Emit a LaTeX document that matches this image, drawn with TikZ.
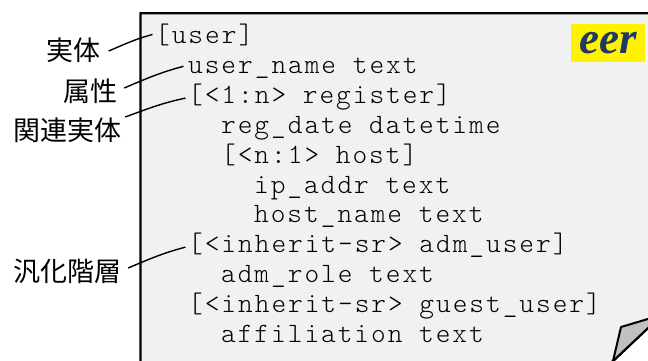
\documentclass[tikz,border=0pt]{standalone}
\usepackage{fontspec}
\setmainfont{Liberation Serif}
\newfontfamily\codefont[LetterSpace=7]{lmmonolt10-regular.otf}
\newfontfamily\jpfont{Noto Sans CJK JP}
\newfontfamily\tagfont{Liberation Serif}
\usetikzlibrary{calc}
\definecolor{paper}{HTML}{F1F1F1}
\definecolor{flapgray}{HTML}{C0C0C0}
\definecolor{tagblue}{RGB}{31,56,100}

\begin{document}
\begin{tikzpicture}[x=1pt,y=1pt,
  codeline/.style={anchor=base west, inner xsep=2.5pt, inner ysep=0pt,
    text height=16.5pt, text depth=5.5pt,
    font=\codefont\fontsize{28}{30}\selectfont},
  jplabel/.style={font=\jpfont\fontsize{27}{30}\selectfont, inner sep=0pt},
  callout/.style={draw=black, line width=1.4pt},
  tagbox/.style={fill=yellow, minimum width=74pt, minimum height=38pt,
    inner sep=0pt, text height=20.7pt, text depth=0pt, text=tagblue,
    font=\tagfont\bfseries\itshape\fontsize{45}{45}\selectfont}]
\useasboundingbox (0,0) rectangle (648,-361);
\clip (0,0) rectangle (648,-361);
\fill[white] (0,0) rectangle (648,-361);

% the sheet, with its lower right corner turned over
\draw[line width=2.4pt, fill=paper]
  (140.5,-400) -- (140.5,-13.3) -- (680,-13.3) -- (680,-297.8) -- (571.6,-400) -- cycle;
\draw[line width=2pt, fill=flapgray, line join=round]
  (613,-361) -- (621,-327) -- (662,-314.8) -- cycle;

% schema text
\node[codeline] (l0)  at (152.5,-44)   {[user]};
\node[codeline] (l1)  at (185.5,-73.8) {user\_name text};
\node[codeline] (l2)  at (185.5,-103.6) {[<1:n> register]};
\node[codeline] (l3)  at (218.5,-133.4) {reg\_date datetime};
\node[codeline] (l4)  at (218.5,-163.2) {[<n:1> host]};
\node[codeline] (l5)  at (251.5,-193)  {ip\_addr text};
\node[codeline] (l6)  at (251.5,-222.8) {host\_name text};
\node[codeline] (l7)  at (185.5,-252.6) {[<inherit-sr> adm\_user]};
\node[codeline] (l8)  at (218.5,-282.4) {adm\_role text};
\node[codeline] (l9)  at (185.5,-312.2) {[<inherit-sr> guest\_user]};
\node[codeline] (l10) at (218.5,-342)  {affiliation text};

% tag
\node[tagbox] (tag) at (608,-43) {eer};

% side labels
\node[jplabel] (ent)  at (73.5,-50) {実体};
\node[jplabel] (attr) at (90,-91)   {属性};
\node[jplabel] (rel)  at (67,-130)  {関連実体};
\node[jplabel] (gen)  at (67,-271)  {汎化階層};

% callout lines
\draw[callout] ($(ent.east)+(8,-1)$)  to[out=23,in=195] ($(l0.west)+(0,4)$);
\draw[callout] ($(attr.east)+(7,3)$)  to[out=23,in=195] ($(l1.west)+(-2,2)$);
\draw[callout] ($(rel.east)+(4,13)$)  to[out=20,in=192] (l2.west);
\draw[callout] ($(gen.east)+(7,3)$)   to[out=23,in=195] (l7.west);
\end{tikzpicture}
\end{document}
